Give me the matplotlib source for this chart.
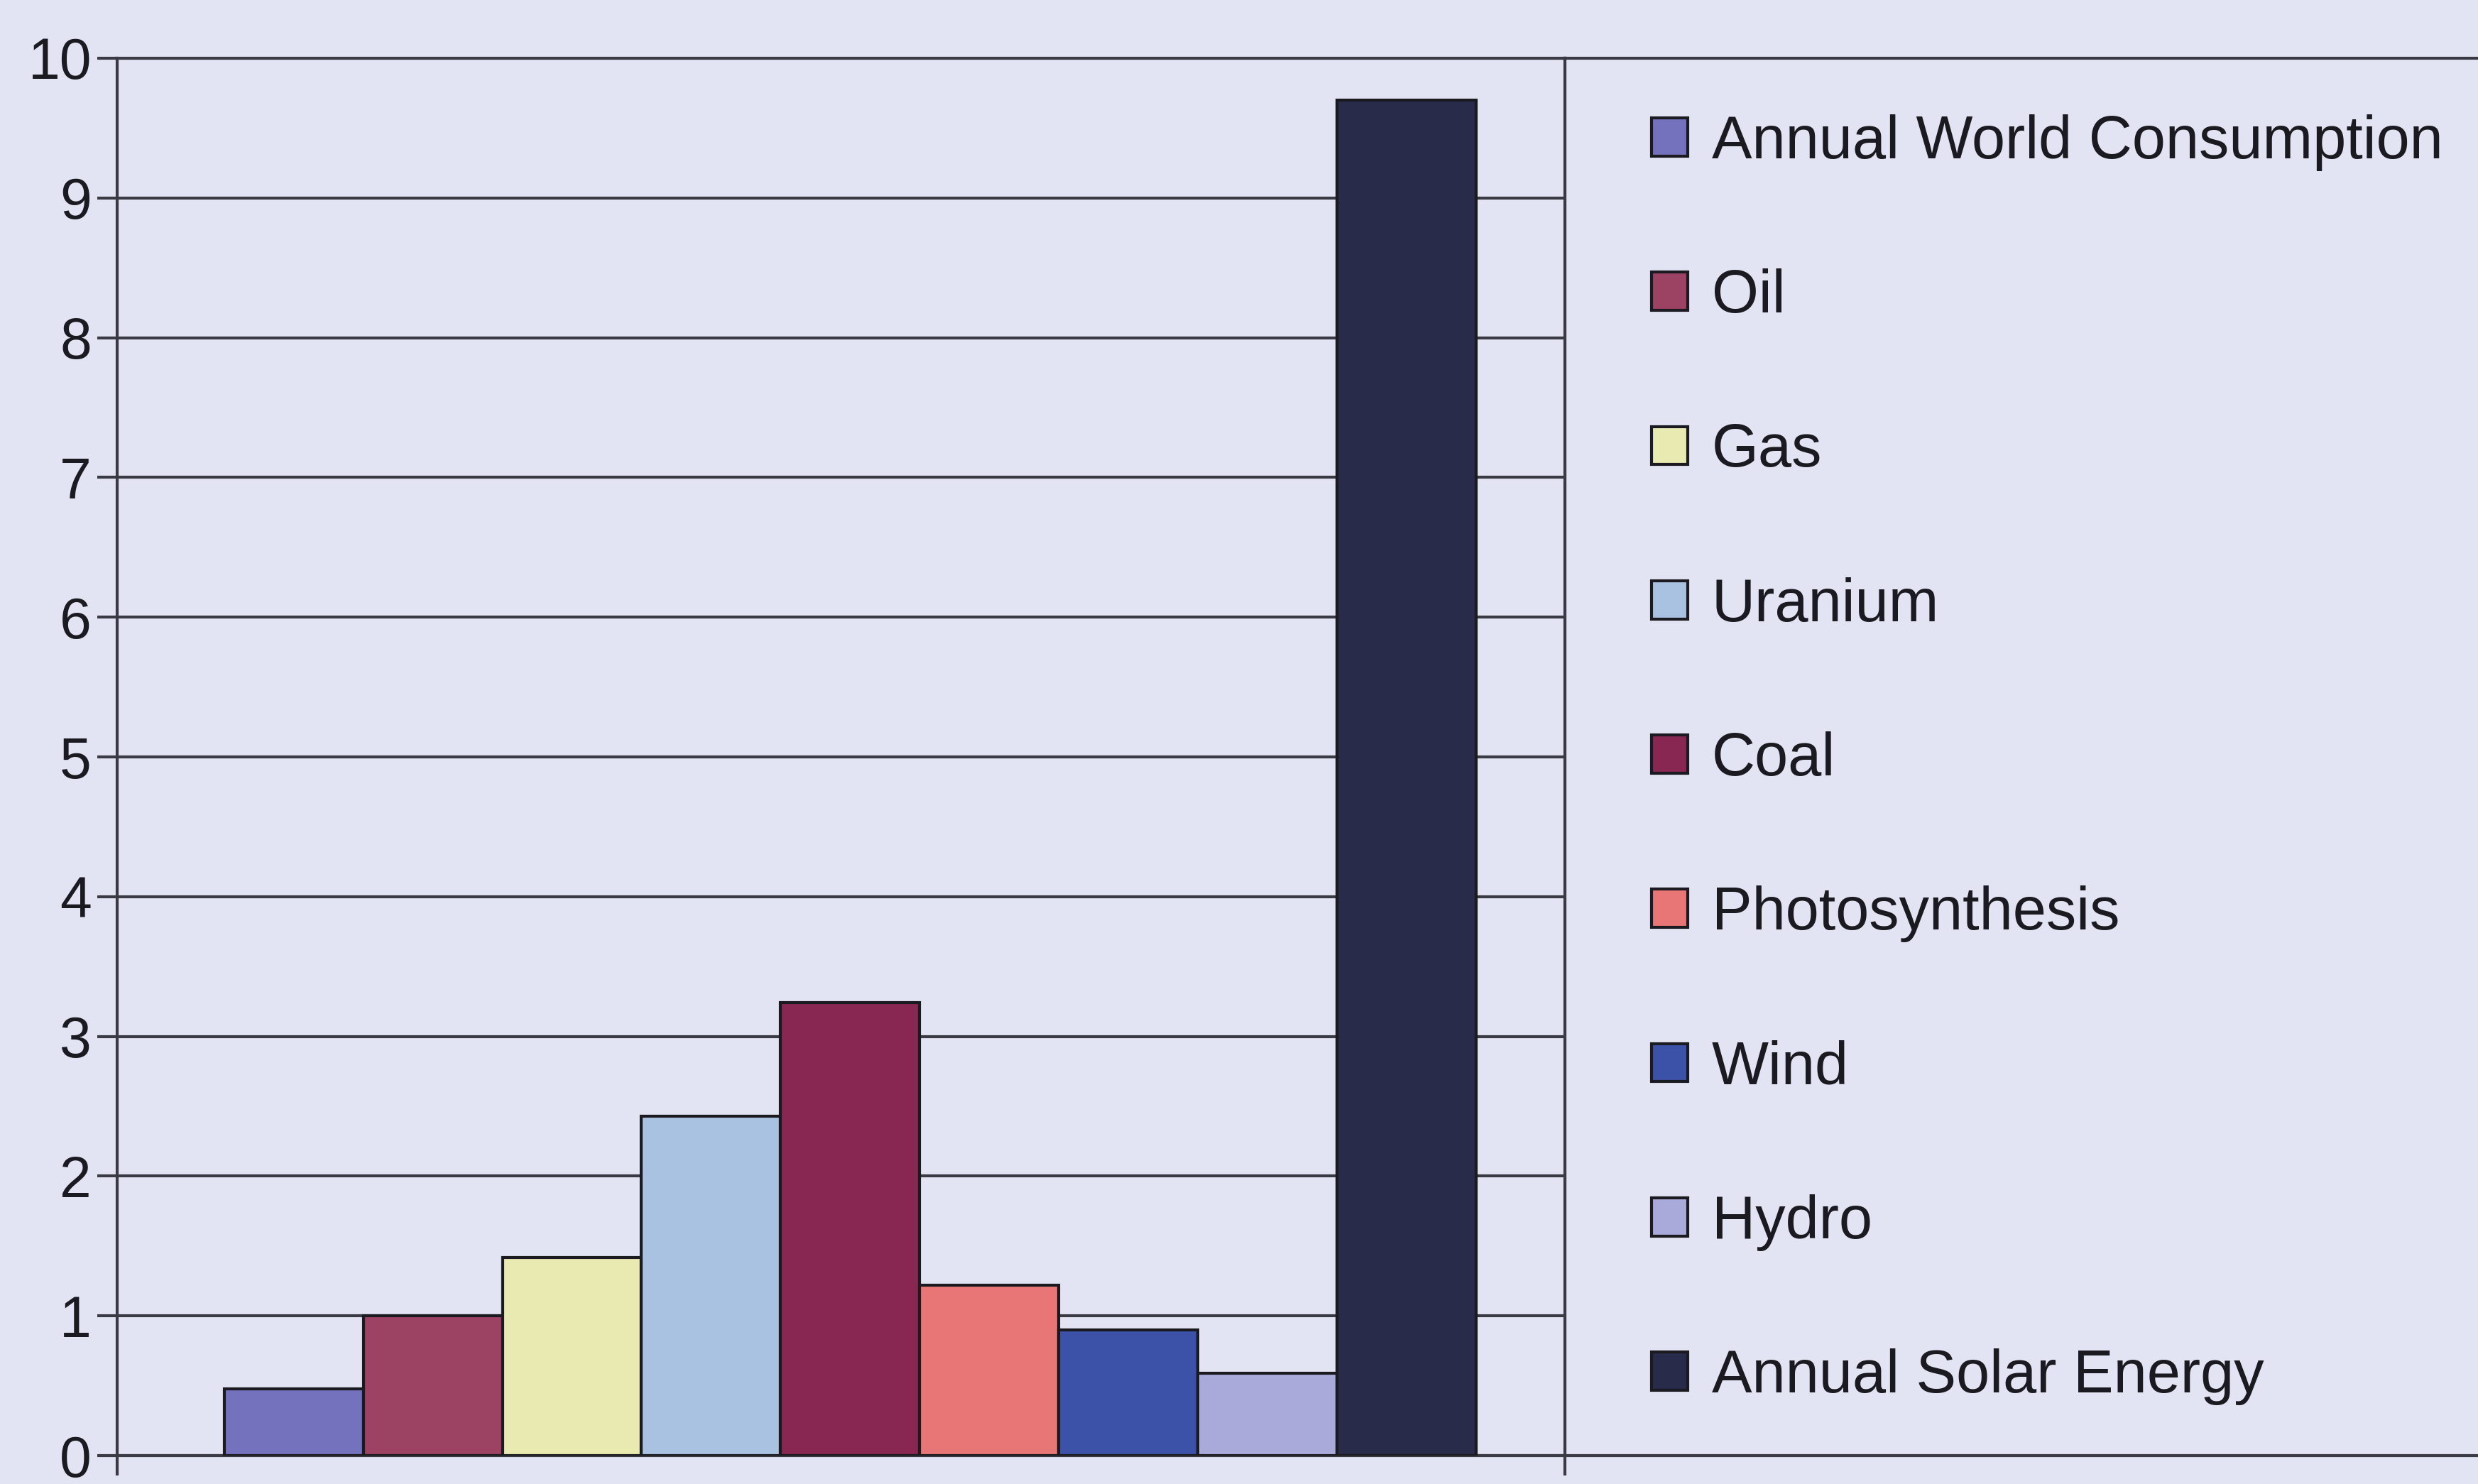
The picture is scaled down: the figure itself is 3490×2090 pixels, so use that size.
import matplotlib.pyplot as plt
import numpy as np

sources = ["Annual World Consumption", "Oil", "Gas", "Uranium", "Coal",
           "Photosynthesis", "Wind", "Hydro", "Annual Solar Energy"]
energy = [0.48, 1.0, 1.42, 2.43, 3.24, 1.22, 0.9, 0.59, 9.7]
colours = ["#7472BC", "#9C4262", "#E8EAB2", "#A9C2E2", "#882852",
           "#E87676", "#3B52A8", "#A9AADA", "#282B4A"]
y_ticks = np.arange(0, 11)

background = "#E2E4F3"
ink = "#1A1A20"
rule = "#3A3A44"


def main():
    plt.rcParams['font.family'] = ['Liberation Sans', 'DejaVu Sans']
    fig = plt.figure(figsize=(34.9, 20.9), dpi=100, facecolor=background)

    # legend panel to the right of the plot, sharing its top and bottom border
    panel = fig.add_axes([0.6315, 0.0191, 0.45, 0.9417])
    panel.set_facecolor(background)
    panel.set_xticks([])
    panel.set_yticks([])
    for spine in panel.spines.values():
        spine.set_color(rule)
        spine.set_linewidth(3)

    ax = fig.add_axes([0.0473, 0.0191, 0.5842, 0.9417])
    ax.set_facecolor(background)

    x = np.arange(len(energy))
    bars = ax.bar(x, energy, width=1.0, color=colours, edgecolor=ink,
                  linewidth=3, zorder=3)

    ax.set_xlim(-1.27, 9.14)
    ax.set_ylim(0, 10)
    ax.set_yticks(y_ticks)
    ax.set_xticks([-1.27, 9.14])
    ax.set_xticklabels([])
    ax.yaxis.grid(True, color=rule, linewidth=3, zorder=1)
    ax.set_axisbelow(True)
    for spine in ax.spines.values():
        spine.set_color(rule)
        spine.set_linewidth(3)
    ax.tick_params(axis='y', direction='out', length=20, width=3, color=rule,
                   labelsize=58, labelcolor=ink, pad=6)
    ax.tick_params(axis='x', direction='out', length=20, width=3, color=rule)

    fig.legend(list(bars), sources, loc='upper left',
               bbox_to_anchor=(0.6665, 0.923), frameon=False, fontsize=61,
               labelcolor=ink, handlelength=0.6, handleheight=0.6,
               handletextpad=0.4, labelspacing=1.62, borderpad=0,
               borderaxespad=0)

    fig.savefig("out.png", dpi=100, facecolor=background)


if __name__ == "__main__":
    main()
